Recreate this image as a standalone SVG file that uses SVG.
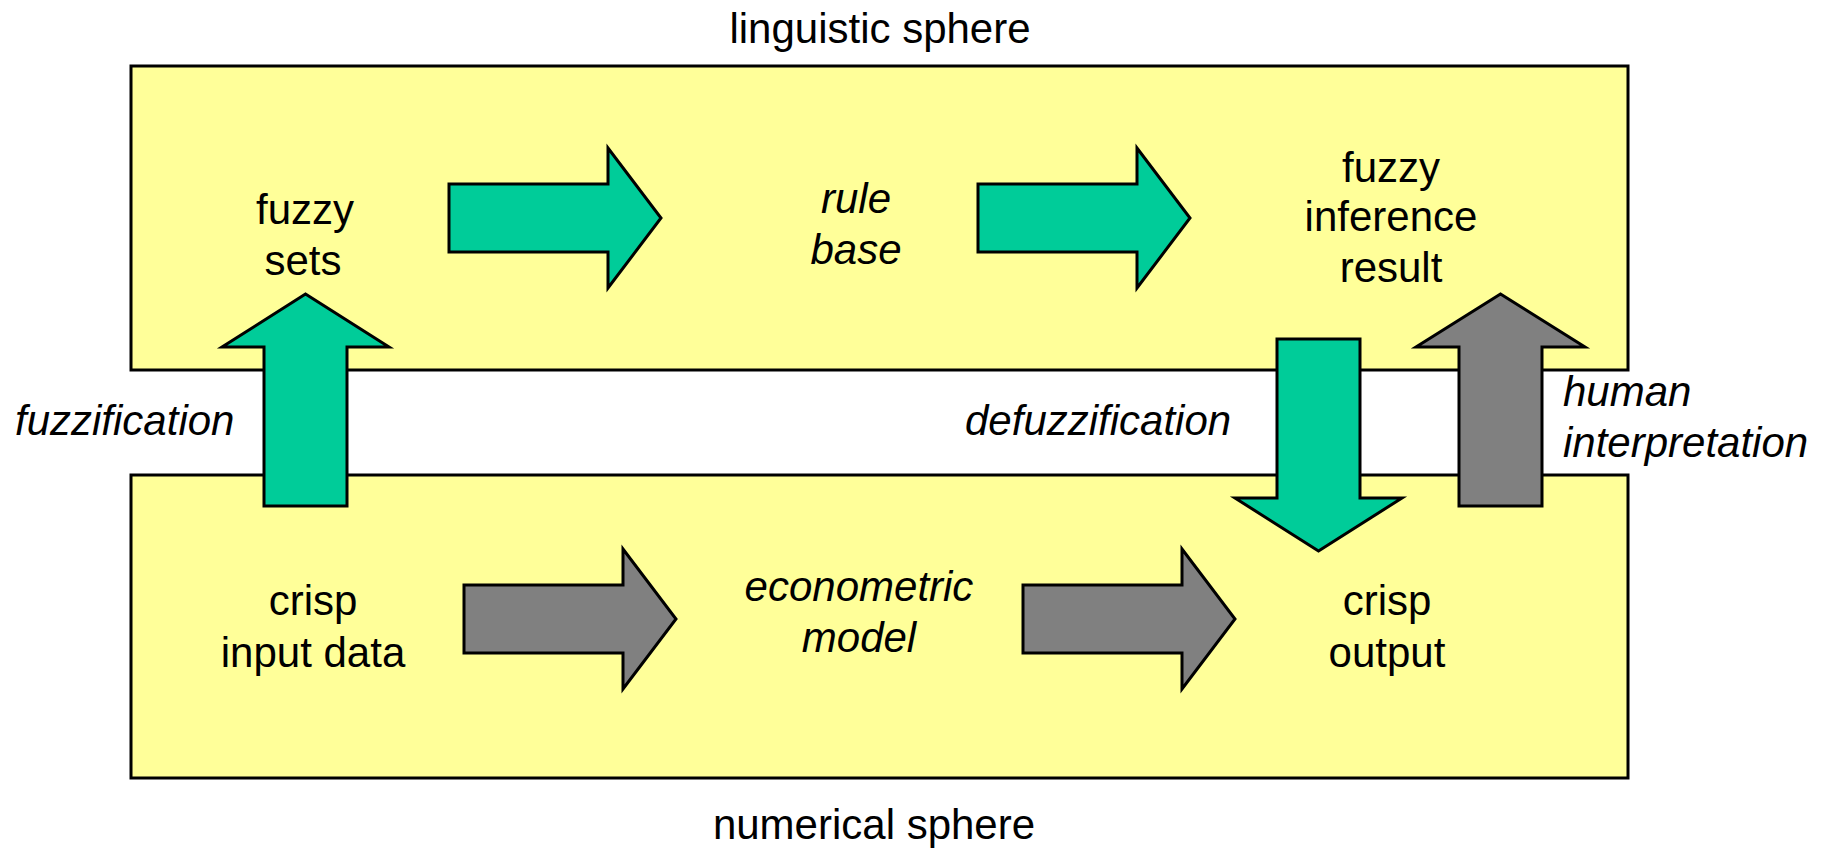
<svg xmlns="http://www.w3.org/2000/svg" width="1823" height="852" viewBox="0 0 1823 852">
<style>
.sphere{fill:#FFFF99;stroke:#000;stroke-width:3}
.g{fill:#00CC99;stroke:#000;stroke-width:3;stroke-linejoin:miter}
.k{fill:#808080;stroke:#000;stroke-width:3;stroke-linejoin:miter}
text{font-family:"Liberation Sans",Arial,sans-serif;font-size:42px;fill:#000}
.c{text-anchor:middle}
.i{font-style:italic}
</style>
<rect width="1823" height="852" fill="#fff"/>
<g id="linguistic-sphere">
<rect class="sphere" x="131" y="66" width="1497" height="304"/>
<text class="c" x="880" y="43">linguistic sphere</text>
</g>
<g id="numerical-sphere">
<rect class="sphere" x="131" y="475" width="1497" height="303"/>
<text class="c" x="874" y="839">numerical sphere</text>
</g>
<g id="fuzzy-sets"><text class="c" x="305" y="224">fuzzy</text><text class="c" x="303" y="275">sets</text></g>
<g id="rule-base"><text class="c i" x="856" y="213">rule</text><text class="c i" x="856" y="264">base</text></g>
<g id="fuzzy-inference-result"><text class="c" x="1391" y="182">fuzzy</text><text class="c" x="1391" y="231">inference</text><text class="c" x="1391" y="282">result</text></g>
<g id="crisp-input-data"><text class="c" x="313" y="615">crisp</text><text class="c" x="313" y="667">input data</text></g>
<g id="econometric-model"><text class="c i" x="859" y="601">econometric</text><text class="c i" x="859" y="652">model</text></g>
<g id="crisp-output"><text class="c" x="1387" y="615">crisp</text><text class="c" x="1387" y="667">output</text></g>
<g id="connectors">
<polygon class="g" points="449,184 608,184 608,148 661,218 608,288 608,252 449,252"/>
<polygon class="g" points="978,184 1137,184 1137,148 1190,218 1137,288 1137,252 978,252"/>
<polygon class="k" points="464,585 623,585 623,549 676,619 623,689 623,653 464,653"/>
<polygon class="k" points="1023,585 1182,585 1182,549 1235,619 1182,689 1182,653 1023,653"/>
<polygon class="g" points="264,506 264,347 222,347 305.5,294 389,347 347,347 347,506"/>
<polygon class="g" points="1277,339 1360,339 1360,498 1402,498 1318.5,551 1235,498 1277,498"/>
<polygon class="k" points="1459,506 1459,347 1416,347 1500.5,294 1585,347 1542,347 1542,506"/>
<text class="i" x="15" y="435">fuzzification</text>
<text class="i" x="965" y="435">defuzzification</text>
<text class="i" x="1563" y="406">human</text>
<text class="i" x="1563" y="457">interpretation</text>
</g>
</svg>
